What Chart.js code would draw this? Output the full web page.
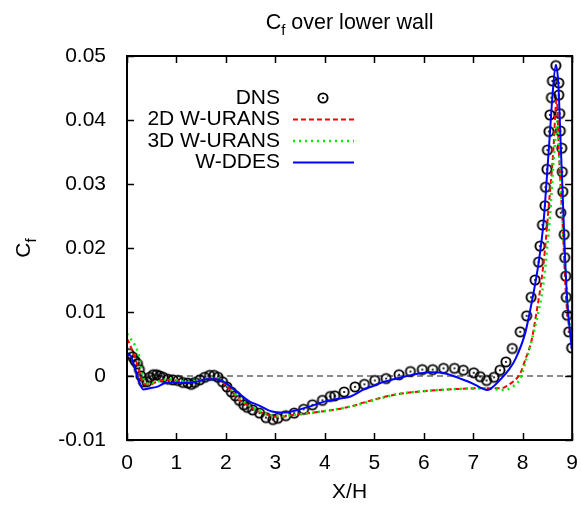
<!DOCTYPE html>
<html>
<head>
<meta charset="utf-8">
<script src="https://cdn.jsdelivr.net/npm/chart.js@4.4.1/dist/chart.umd.min.js"></script>
<style>
  html, body { margin: 0; padding: 0; background: #fff; }
  #wrap { width: 581px; height: 507px; }
</style>
</head>
<body>
<div id="wrap"><canvas id="cfChart" width="581" height="507"></canvas></div>
<script>
// DNS reference points
const dnsX = [0.04, 0.11, 0.16, 0.21, 0.25, 0.28, 0.33, 0.40, 0.46, 0.53, 0.60, 0.66, 0.73, 0.83, 0.93, 1.03,
  1.13, 1.23, 1.30, 1.37, 1.47, 1.57, 1.67, 1.76, 1.84, 1.93, 2.02, 2.11, 2.19, 2.27, 2.36, 2.43,
  2.54, 2.68, 2.81, 2.95, 3.05, 3.21, 3.38, 3.57, 3.75, 3.95, 4.11, 4.20, 4.39, 4.61, 4.80, 5.01,
  5.24, 5.50, 5.73, 5.97, 6.18, 6.40, 6.62, 6.80, 7.01, 7.14, 7.27, 7.42, 7.54, 7.66, 7.79, 7.95,
  8.08, 8.17, 8.25, 8.32, 8.35, 8.40, 8.45, 8.46, 8.49, 8.50, 8.53, 8.55, 8.58, 8.60, 8.67, 8.73,
  8.73, 8.75, 8.76, 8.79, 8.80, 8.81, 8.77, 8.84, 8.85, 8.87, 8.88, 8.90, 8.93, 8.99];
const dnsY = [0.0035, 0.0030, 0.0024, 0.0019, 0.0010, 0.0000, -0.0009, -0.0009, -0.0002, 0.0002, 0.0002, 0.0000, -0.0002, -0.0005, -0.0006, -0.0007,
  -0.0010, -0.0011, -0.0013, -0.0010, -0.0006, -0.0002, 0.0001, 0.0001, -0.0002, -0.0009, -0.0017, -0.0025, -0.0031, -0.0038, -0.0045, -0.0049,
  -0.0053, -0.0058, -0.0065, -0.0068, -0.0066, -0.0062, -0.0058, -0.0052, -0.0045, -0.0038, -0.0032, -0.0031, -0.0025, -0.0017, -0.0013, -0.0007,
  -0.0004, 0.0002, 0.0007, 0.0010, 0.0010, 0.0012, 0.0012, 0.0009, 0.0005, -0.0001, -0.0007, -0.0002, 0.0009, 0.0022, 0.0043, 0.0069,
  0.0094, 0.0123, 0.0150, 0.0178, 0.0203, 0.0236, 0.0266, 0.0295, 0.0323, 0.0353, 0.0382, 0.0408, 0.0435, 0.0461, 0.0485, 0.0458,
  0.0439, 0.0410, 0.0383, 0.0356, 0.0319, 0.0288, 0.0255, 0.0221, 0.0185, 0.0156, 0.0123, 0.0095, 0.0069, 0.0044];

// 2D W-URANS
const urans2dX = [0.00, 0.03, 0.20, 0.33, 0.46, 0.60, 0.87, 1.20, 1.47, 1.67, 1.80, 2.00, 2.28, 2.54, 2.81, 3.08,
  3.35, 3.89, 4.56, 4.76, 5.43, 6.10, 6.77, 7.31, 7.58, 7.71, 7.85, 7.95, 8.05, 8.18, 8.28, 8.38,
  8.45, 8.52, 8.62, 8.67, 8.69, 8.73, 8.80, 8.88, 8.99];
const urans2dY = [0.0058, 0.0054, 0.0020, -0.0011, -0.0014, -0.0009, -0.0006, -0.0010, -0.0008, -0.0004, -0.0004, -0.0014, -0.0038, -0.0050, -0.0060, -0.0064,
  -0.0061, -0.0056, -0.0047, -0.0042, -0.0029, -0.0023, -0.0020, -0.0019, -0.0019, -0.0014, -0.0006, 0.0004, 0.0025, 0.0056, 0.0100, 0.0150,
  0.0197, 0.0260, 0.0353, 0.0423, 0.0431, 0.0353, 0.0249, 0.0119, 0.0051];

// 3D W-URANS
const urans3dX = [0.00, 0.03, 0.23, 0.36, 0.46, 0.60, 0.87, 1.20, 1.47, 1.67, 1.80, 2.00, 2.28, 2.54, 2.81, 3.08,
  3.35, 3.89, 4.56, 4.76, 5.43, 6.10, 6.77, 7.31, 7.58, 7.81, 7.95, 8.05, 8.25, 8.42, 8.49, 8.55,
  8.64, 8.70, 8.75, 8.84, 8.92, 9.00];
const urans3dY = [0.0066, 0.0063, 0.0035, -0.0009, -0.0012, -0.0009, -0.0005, -0.0009, -0.0007, -0.0003, -0.0003, -0.0012, -0.0036, -0.0049, -0.0059, -0.0063,
  -0.0061, -0.0056, -0.0047, -0.0043, -0.0029, -0.0023, -0.0020, -0.0019, -0.0022, -0.0016, -0.0004, 0.0020, 0.0077, 0.0145, 0.0197, 0.0249,
  0.0353, 0.0398, 0.0327, 0.0197, 0.0103, 0.0046];

// W-DDES
const ddesX = [0.00, 0.06, 0.15, 0.25, 0.33, 0.46, 0.60, 0.77, 0.93, 1.20, 1.40, 1.60, 1.80, 2.00, 2.21, 2.48,
  2.64, 2.91, 3.18, 3.45, 3.72, 3.99, 4.25, 4.52, 4.79, 5.00, 5.16, 5.56, 5.90, 6.17, 6.44, 6.70,
  6.97, 7.17, 7.29, 7.44, 7.58, 7.72, 7.85, 8.05, 8.18, 8.32, 8.42, 8.48, 8.55, 8.60, 8.67, 8.72,
  8.76, 8.80, 8.85, 8.90, 8.99];
const ddesY = [0.0033, 0.0033, 0.0015, -0.0010, -0.0021, -0.0019, -0.0017, -0.0011, -0.0010, -0.0011, -0.0009, -0.0005, -0.0005, -0.0011, -0.0024, -0.0040,
  -0.0045, -0.0055, -0.0057, -0.0053, -0.0047, -0.0040, -0.0036, -0.0032, -0.0021, -0.0015, -0.0010, -0.0002, 0.0004, 0.0006, 0.0004, -0.0003,
  -0.0011, -0.0019, -0.0022, -0.0014, -0.0003, 0.0010, 0.0026, 0.0067, 0.0114, 0.0176, 0.0239, 0.0301, 0.0379, 0.0436, 0.0486, 0.0457,
  0.0379, 0.0301, 0.0197, 0.0119, 0.0043];

// y = 0 reference
const zeroX = [0, 9];
const zeroY = [0, 0];

const xTicks = [0, 1, 2, 3, 4, 5, 6, 7, 8, 9];
const xTickLabels = ['0', '1', '2', '3', '4', '5', '6', '7', '8', '9'];
const yTicks = [-0.01, 0, 0.01, 0.02, 0.03, 0.04, 0.05];
const yTickLabels = ['-0.01', '0', '0.01', '0.02', '0.03', '0.04', '0.05'];
const seriesNames = ['DNS', '2D W-URANS', '3D W-URANS', 'W-DDES'];

const FONT = 'Liberation Sans, Arial, sans-serif';
const toPoints = (xs, ys) => xs.map((x, i) => ({ x: x, y: ys[i] }));

// circle with a dot in the middle, like gnuplot's point type
function dotCircle() {
    const c = document.createElement('canvas');
    c.width = 14; c.height = 14;
    const g = c.getContext('2d');
    g.strokeStyle = '#000';
    g.lineWidth = 1.9;
    g.beginPath(); g.arc(7, 7, 4.6, 0, Math.PI * 2); g.stroke();
    g.fillStyle = '#000';
    g.beginPath(); g.arc(7, 7, 1.1, 0, Math.PI * 2); g.fill();
    return c;
}
const dnsMarker = dotCircle();

const lineStyles = [
    null,
    { color: '#ff0000', dash: [5, 3], width: 2 },
    { color: '#00ee00', dash: [2, 4], width: 2.5 },
    { color: '#0000ff', dash: [], width: 2 }
];

// text with a subscript "f" after the first letter
function drawCf(ctx, x, y, rest, size) {
    ctx.font = size + 'px ' + FONT;
    const wC = ctx.measureText('C').width;
    ctx.font = Math.round(size * 0.72) + 'px ' + FONT;
    const wF = ctx.measureText('f').width;
    ctx.font = size + 'px ' + FONT;
    const wR = rest ? ctx.measureText(rest).width : 0;
    const total = wC + wF + wR;
    let cx = x - total / 2;
    ctx.textAlign = 'left';
    ctx.textBaseline = 'alphabetic';
    ctx.fillText('C', cx, y);
    cx += wC;
    ctx.font = Math.round(size * 0.72) + 'px ' + FONT;
    ctx.fillText('f', cx, y + size * 0.28);
    cx += wF;
    if (rest) {
        ctx.font = size + 'px ' + FONT;
        ctx.fillText(rest, cx, y);
    }
}

const decorations = {
    id: 'decorations',
    afterDatasetsDraw(chart) {
        const { ctx, chartArea: a, scales: { x, y } } = chart;
        ctx.save();

        // inward ticks on all four sides
        ctx.strokeStyle = '#000';
        ctx.lineWidth = 1.5;
        ctx.beginPath();
        xTicks.forEach(v => {
            const px = Math.round(x.getPixelForValue(v)) + 0.5;
            ctx.moveTo(px, a.bottom); ctx.lineTo(px, a.bottom - 7);
            ctx.moveTo(px, a.top); ctx.lineTo(px, a.top + 7);
        });
        yTicks.forEach(v => {
            const py = Math.round(y.getPixelForValue(v)) + 0.5;
            ctx.moveTo(a.left, py); ctx.lineTo(a.left + 7, py);
            ctx.moveTo(a.right, py); ctx.lineTo(a.right - 7, py);
        });
        ctx.stroke();

        // border
        ctx.lineWidth = 2;
        ctx.strokeRect(a.left, a.top, a.right - a.left, a.bottom - a.top);

        // legend
        ctx.fillStyle = '#000';
        ctx.font = '21px ' + FONT;
        ctx.textAlign = 'right';
        ctx.textBaseline = 'middle';
        const rowY = [98, 119.5, 141, 162.5];
        seriesNames.forEach((name, i) => {
            ctx.fillText(name, 280, rowY[i]);
            if (i === 0) {
                ctx.drawImage(dnsMarker, 323 - 7, rowY[i] - 7);
            } else {
                const s = lineStyles[i];
                ctx.strokeStyle = s.color;
                ctx.lineWidth = s.width;
                ctx.setLineDash(s.dash);
                ctx.beginPath();
                ctx.moveTo(293, rowY[i]);
                ctx.lineTo(354, rowY[i]);
                ctx.stroke();
                ctx.setLineDash([]);
            }
        });

        // title
        ctx.fillStyle = '#000';
        drawCf(ctx, (a.left + a.right) / 2, 29, ' over lower wall', 21.5);

        // y axis label, rotated
        ctx.save();
        ctx.translate(30, 248);
        ctx.rotate(-Math.PI / 2);
        drawCf(ctx, 0, 0, '', 21);
        ctx.restore();

        ctx.restore();
    }
};

new Chart(document.getElementById('cfChart'), {
    type: 'scatter',
    data: {
        datasets: [
            {
                label: seriesNames[3],
                data: toPoints(ddesX, ddesY),
                showLine: true,
                borderColor: lineStyles[3].color,
                borderWidth: lineStyles[3].width,
                pointRadius: 0,
                cubicInterpolationMode: 'monotone',
                order: 1
            },
            {
                label: seriesNames[2],
                data: toPoints(urans3dX, urans3dY),
                showLine: true,
                borderColor: lineStyles[2].color,
                borderWidth: lineStyles[2].width,
                borderDash: lineStyles[2].dash,
                pointRadius: 0,
                cubicInterpolationMode: 'monotone',
                order: 2
            },
            {
                label: seriesNames[1],
                data: toPoints(urans2dX, urans2dY),
                showLine: true,
                borderColor: lineStyles[1].color,
                borderWidth: lineStyles[1].width,
                borderDash: lineStyles[1].dash,
                pointRadius: 0,
                cubicInterpolationMode: 'monotone',
                order: 3
            },
            {
                label: seriesNames[0],
                data: toPoints(dnsX, dnsY),
                pointStyle: dnsMarker,
                pointRadius: 5,
                order: 4
            },
            {
                label: 'zero',
                data: toPoints(zeroX, zeroY),
                showLine: true,
                borderColor: '#666666',
                borderWidth: 1.5,
                borderDash: [6, 4],
                pointRadius: 0,
                order: 5
            }
        ]
    },
    options: {
        responsive: false,
        animation: false,
        devicePixelRatio: 1,
        layout: { padding: { left: 0, right: 0, top: 56, bottom: 0 } },
        plugins: {
            legend: { display: false },
            tooltip: { enabled: false }
        },
        scales: {
            x: {
                type: 'linear',
                min: 0,
                max: 9,
                afterBuildTicks: s => { s.ticks = xTicks.map(v => ({ value: v })); },
                afterFit: s => { s.height = 67; },
                grid: { display: false },
                border: { display: false },
                ticks: {
                    autoSkip: false,
                    maxRotation: 0,
                    padding: 3,
                    color: '#000',
                    font: { family: FONT, size: 21 },
                    callback: (v, i) => xTickLabels[i]
                },
                title: {
                    display: true,
                    text: 'X/H',
                    color: '#000',
                    font: { family: FONT, size: 21 },
                    padding: { top: 0, bottom: 2 }
                }
            },
            y: {
                type: 'linear',
                min: -0.01,
                max: 0.05,
                afterBuildTicks: s => { s.ticks = yTicks.map(v => ({ value: v })); },
                afterFit: s => { s.width = 127; },
                grid: { display: false },
                border: { display: false },
                ticks: {
                    autoSkip: false,
                    padding: 13,
                    color: '#000',
                    font: { family: FONT, size: 21 },
                    callback: (v, i) => yTickLabels[i]
                }
            }
        }
    },
    plugins: [decorations]
});
</script>
</body>
</html>
